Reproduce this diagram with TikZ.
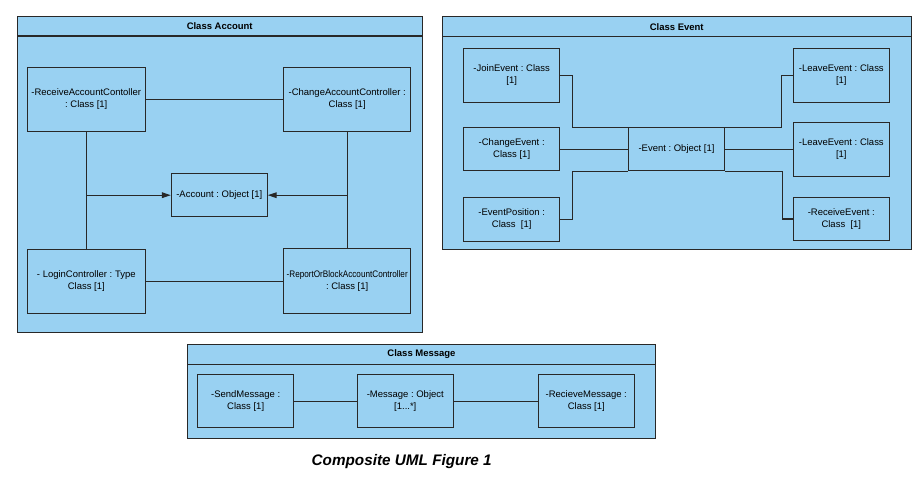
\documentclass[tikz,border=0pt]{standalone}
\usepackage{graphicx}
\usepackage{fontspec}
\setmainfont{Liberation Sans}
\usetikzlibrary{arrows.meta}
\frenchspacing

\definecolor{umlblue}{RGB}{153,209,242}
\definecolor{umlline}{RGB}{40,40,40}

\tikzset{
	frame/.style={draw=umlline, fill=umlblue, line width=0.5pt},
	title/.style={font=\fontsize{5.4}{6.6}\selectfont\bfseries},
	cls/.style={draw=umlline, fill=umlblue, line width=0.6pt, align=center, inner sep=1pt, font=\fontsize{5.4}{6.6}\selectfont},
	link/.style={draw=umlline, line width=0.6pt},
	arr/.style={link, -{Triangle[length=5pt,width=3.2pt]}}
}

\begin{document}
\begin{tikzpicture}[x=0.02cm,y=-0.02cm]
	\useasboundingbox (0,0) rectangle (924,492);
	
	% frames
	\draw[frame] (17.3,16) rectangle (422,332);
	\draw[link] (17.3,36) -- (422,36);
	\node[title] (acctitle) at (219.7,26) {Class Account};
	
	\draw[frame] (442.3,16.7) rectangle (911,249);
	\draw[link] (442.3,36.7) -- (911,36.7);
	\node[title] (evttitle) at (676.7,26.7) {Class Event};
	
	\draw[frame] (187.3,344.3) rectangle (655.7,438.3);
	\draw[link] (187.3,364.3) -- (655.7,364.3);
	\node[title] (msgtitle) at (421.5,354.3) {Class Message};
	
	% account classes
	\node[cls, minimum width=2.35cm, minimum height=1.28cm] (recv) at (86.3,99.3) {-ReceiveAccountContoller\\: Class [1]};
	\node[cls, minimum width=2.55cm, minimum height=1.28cm] (chg) at (347.2,99.3) {-ChangeAccountController :\\Class [1]};
	\node[cls, minimum width=2.35cm, minimum height=1.28cm] (login) at (86.3,281.2) {- LoginController : Type\\Class [1]};
	\node[cls, minimum width=2.55cm, minimum height=1.31cm, inner sep=0pt] (report) at (347.2,281.2) {\scalebox{0.86}[1]{-ReportOrBlockAccountController}\\: Class [1]};
	\node[cls, minimum width=1.92cm, minimum height=0.86cm] (acc) at (219.3,195.2) {-Account : Object [1]};
	
	\draw[link] (recv) -- (chg);
	\draw[link] (login) -- (report);
	\draw[link] (recv) -- (login);
	\draw[link] (chg) -- (report);
	\draw[arr] (recv.south |- acc.west) -- (acc.west);
	\draw[arr] (chg.south |- acc.east) -- (acc.east);
	
	% event classes
	\node[cls, minimum width=1.92cm, minimum height=1.08cm] (join) at (511.7,75.3) {-JoinEvent : Class\\{[1]}};
	\node[cls, minimum width=1.92cm, minimum height=0.86cm] (chev) at (511.7,149.2) {-ChangeEvent :\\Class [1]};
	\node[cls, minimum width=1.92cm, minimum height=0.87cm] (epos) at (511.7,219.3) {-EventPosition :\\Class \ [1]};
	\node[cls, minimum width=1.91cm, minimum height=0.86cm] (evt) at (676.5,149.2) {-Event : Object [1]};
	\node[cls, minimum width=1.92cm, minimum height=1.08cm] (leavea) at (841.3,75.3) {-LeaveEvent : Class\\{[1]}};
	\node[cls, minimum width=1.92cm, minimum height=1.08cm] (leaveb) at (841.3,149.2) {-LeaveEvent : Class\\{[1]}};
	\node[cls, minimum width=1.92cm, minimum height=0.85cm] (recev) at (841.3,219) {-ReceiveEvent :\\Class \ [1]};
	
	\draw[link] (join.east) -- ++(12,0) |- (evt.north west);
	\draw[link] (chev) -- (evt);
	\draw[link] (epos.east) -- ++(12,0) |- (evt.south west);
	\draw[link] (leavea.west) -- ++(-11.6,0) |- (evt.north east);
	\draw[link] (leaveb) -- (evt);
	\draw[link] (recev.west) -- ++(-10,0) |- (evt.south east);
	
	% message classes
	\node[cls, minimum width=1.92cm, minimum height=1.07cm] (send) at (245.7,401.2) {-SendMessage :\\Class [1]};
	\node[cls, minimum width=1.92cm, minimum height=1.07cm] (msg) at (405.3,401.2) {-Message : Object\\{[1...*]}};
	\node[cls, minimum width=1.92cm, minimum height=1.07cm] (recmsg) at (586.3,401.2) {-RecieveMessage :\\Class [1]};
	
	\draw[link] (send) -- (msg);
	\draw[link] (msg) -- (recmsg);
	
	% caption
	\node[font=\fontsize{8.7}{10}\selectfont\bfseries\itshape] (caption) at (401.7,461.5) {Composite UML Figure 1};
\end{tikzpicture}
\end{document}
